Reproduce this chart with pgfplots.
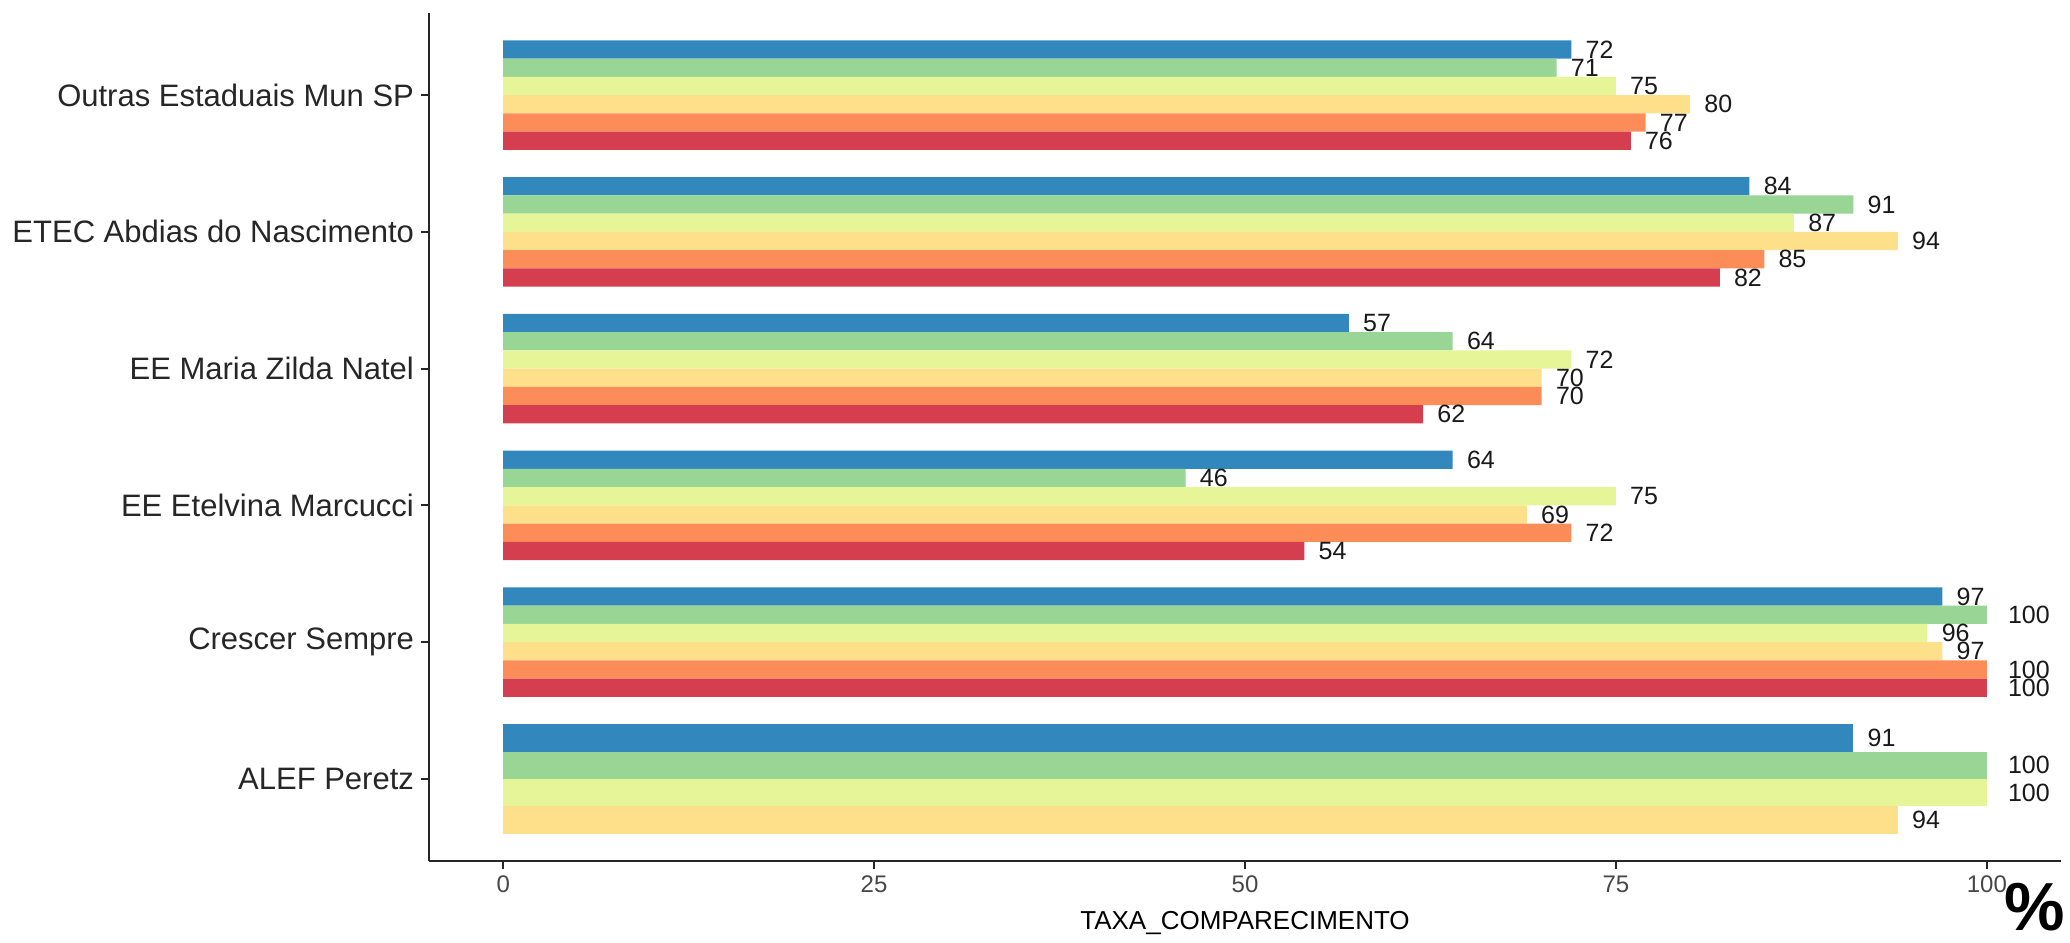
\documentclass[border=0pt]{standalone}
\usepackage{pgfplots}
\pgfplotsset{compat=1.18}
\usepackage{fontspec}
\setmainfont{Liberation Sans}
\definecolor{cA}{HTML}{3288BD}
\definecolor{cB}{HTML}{99D594}
\definecolor{cC}{HTML}{E6F598}
\definecolor{cD}{HTML}{FEE08B}
\definecolor{cE}{HTML}{FC8D59}
\definecolor{cF}{HTML}{D53E4F}
\newcommand\hlab[1]{\setbox0\hbox{#1}\hspace*{0.5\wd0}\box0}
\begin{document}
\begin{tikzpicture}
\useasboundingbox (-214.5pt,-40.5pt) rectangle (820.5pt,430.5pt);
\begin{axis}[
  /pgf/number format/assume math mode=true,
  scale only axis, width=816pt, height=424pt,
  anchor=south west, at={(0pt,0pt)},
  xmin=-5, xmax=105, ymin=0.4, ymax=6.6,
  xbar, clip=false,
  axis x line*=bottom, axis y line*=left,
  axis line style={line width=1pt, black!85},
  xtick={0,25,50,75,100},
  ytick={1,2,3,4,5,6},
  yticklabels={ALEF Peretz, Crescer Sempre, EE Etelvina Marcucci, EE Maria Zilda Natel, ETEC Abdias do Nascimento, Outras Estaduais Mun SP},
  tick align=outside, major tick length=4pt,
  tick style={line width=1pt, black!85},
  x tick label style={font=\fontsize{12}{14}\selectfont, text=black!72},
  y tick label style={font=\fontsize{15.5}{18}\selectfont, text=black!85},
  xlabel={TAXA\_COMPARECIMENTO},
  xlabel style={font=\fontsize{13}{16}\selectfont, at={(axis description cs:0.5,0)}, anchor=base, yshift=-34pt},
  point meta=x,
  nodes near coords={\hlab{\pgfmathprintnumber{\pgfplotspointmeta}}},
  every node near coord/.append style={anchor=west, inner sep=0pt, font=\fontsize{12.5}{15}\selectfont, text=black!90},
]
% five groups with six series
\addplot[fill=cA, draw=none, bar width=0.13333, bar shift=0.33333] coordinates {(72,6) (84,5) (57,4) (64,3) (97,2)};
\addplot[fill=cB, draw=none, bar width=0.13333, bar shift=0.2] coordinates {(71,6) (91,5) (64,4) (46,3) (100,2)};
\addplot[fill=cC, draw=none, bar width=0.13333, bar shift=0.06667] coordinates {(75,6) (87,5) (72,4) (75,3) (96,2)};
\addplot[fill=cD, draw=none, bar width=0.13333, bar shift=-0.06667] coordinates {(80,6) (94,5) (70,4) (69,3) (97,2)};
\addplot[fill=cE, draw=none, bar width=0.13333, bar shift=-0.2] coordinates {(77,6) (85,5) (70,4) (72,3) (100,2)};
\addplot[fill=cF, draw=none, bar width=0.13333, bar shift=-0.33333] coordinates {(76,6) (82,5) (62,4) (54,3) (100,2)};
% ALEF Peretz with four series
\addplot[fill=cA, draw=none, bar width=0.2, bar shift=0.3] coordinates {(91,1)};
\addplot[fill=cB, draw=none, bar width=0.2, bar shift=0.1] coordinates {(100,1)};
\addplot[fill=cC, draw=none, bar width=0.2, bar shift=-0.1] coordinates {(100,1)};
\addplot[fill=cD, draw=none, bar width=0.2, bar shift=-0.3] coordinates {(94,1)};
\node[font=\fontsize{34}{38}\bfseries\selectfont, anchor=center, inner sep=0pt] at (rel axis cs:0.984,-0.054) {\%};
\end{axis}
\end{tikzpicture}
\end{document}
